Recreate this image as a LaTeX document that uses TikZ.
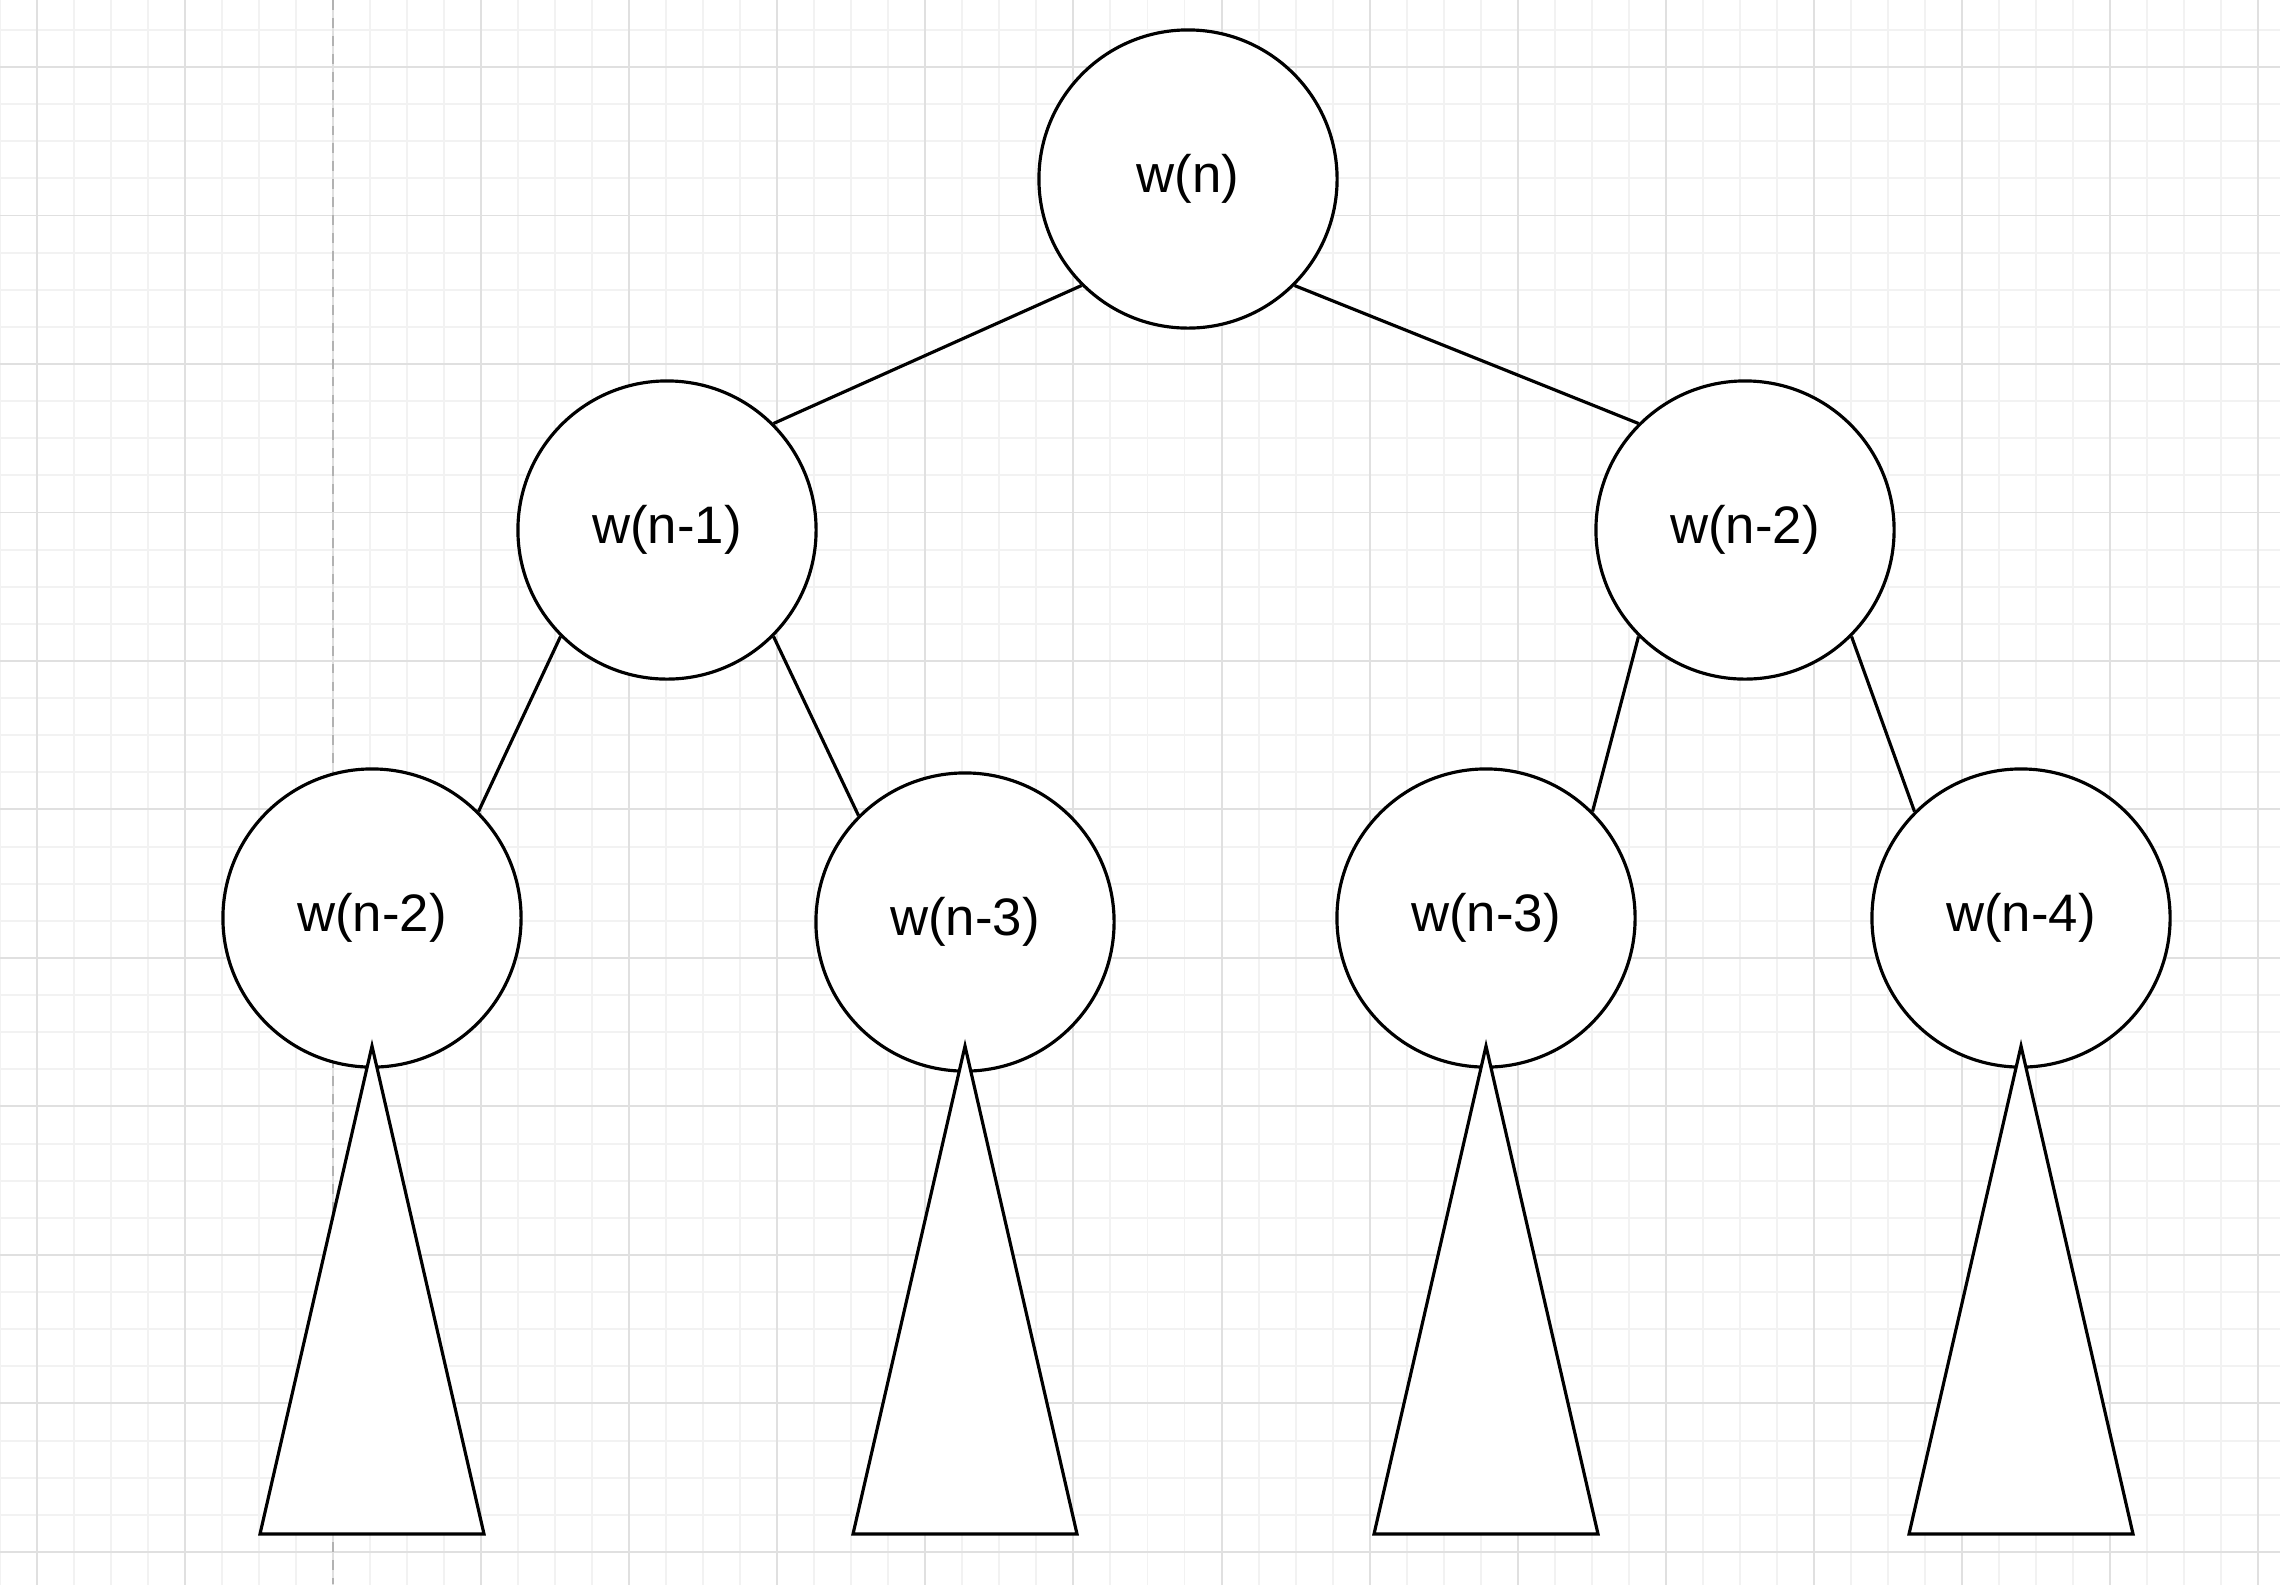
\documentclass[tikz,border=0pt]{standalone}
\usepackage{fontspec}
\setmainfont{Liberation Sans}

\begin{document}
\begin{tikzpicture}[
	x=0.01cm, y=-0.01cm,
	call/.style={circle, draw, line width=0.9pt, fill=white, minimum size=2.98cm, inner sep=0, font=\fontsize{15}{18}\selectfont},
	subtree/.style={draw, line width=0.9pt, fill=white},
	link/.style={line width=0.9pt},
	minorgrid/.style={draw=black!5, line width=0.55pt},
	majorgrid/.style={draw=black!12, line width=0.55pt},
	pagebreak/.style={draw=black!30, line width=0.6pt, dash pattern=on 2.8pt off 2.3pt}
]
\useasboundingbox (0,0) rectangle (2280,1584);
\fill[white] (0,0) rectangle (2280,1584);
\begin{scope}
\clip (0,0) rectangle (2280,1584);
\draw[minorgrid, xstep=0.37cm, ystep=0.371cm, shift={(333,67)}] (-370,-104) grid (2000,1560);
\draw[majorgrid, xstep=1.48cm, ystep=1.484cm, shift={(333,67)}] (-370,-104) grid (2000,1560);
\draw[pagebreak] (333,0) -- (333,1584);
\end{scope}

\node[call] (w1)  at (1188,179) {w(n)};
\node[call] (w21) at (667,530)  {w(n-1)};
\node[call] (w22) at (1745,530) {w(n-2)};
\node[call] (w31) at (372,918)  {w(n-2)};
\node[call] (w32) at (965,922)  {w(n-3)};
\node[call] (w33) at (1486,918) {w(n-3)};
\node[call] (w34) at (2021,918) {w(n-4)};

\draw[link] (w1.south west) -- (w21.north east);
\draw[link] (w1.south east) -- (w22.north west);
\draw[link] (w21.south west) -- (w31.north east);
\draw[link] (w21.south east) -- (w32.north west);
\draw[link] (w22.south west) -- (w33.north east);
\draw[link] (w22.south east) -- (w34.north west);

\draw[subtree] (w31.center) ++(0,128) -- ++(-112,488) -- ++(224,0) -- cycle;
\draw[subtree] (w32.center) ++(0,124) -- ++(-112,488) -- ++(224,0) -- cycle;
\draw[subtree] (w33.center) ++(0,128) -- ++(-112,488) -- ++(224,0) -- cycle;
\draw[subtree] (w34.center) ++(0,128) -- ++(-112,488) -- ++(224,0) -- cycle;
\end{tikzpicture}
\end{document}
